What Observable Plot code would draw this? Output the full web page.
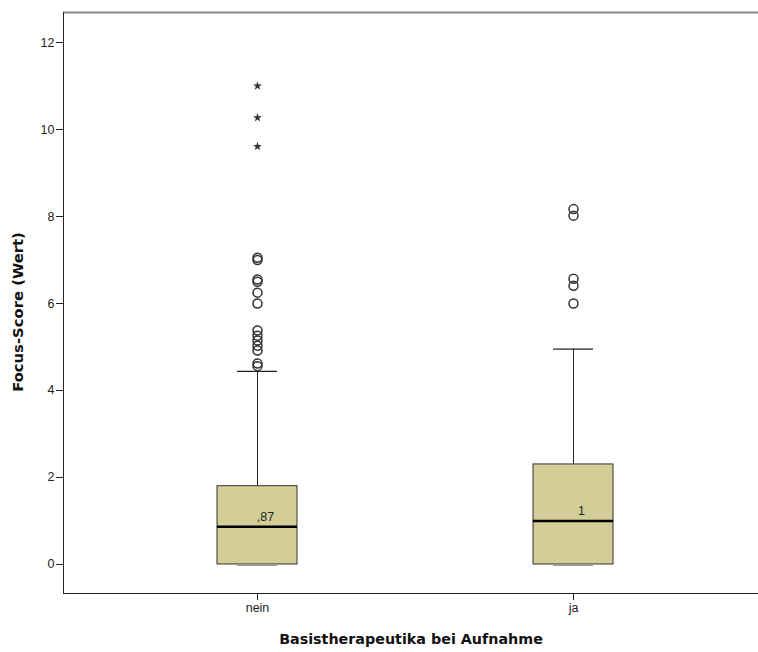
<!DOCTYPE html>
<html><head><meta charset="utf-8">
<script src="https://cdn.jsdelivr.net/npm/d3@7"></script>
<script src="https://cdn.jsdelivr.net/npm/@observablehq/plot@0.6"></script>
<style>body{margin:0;background:#fff}</style>
</head><body><div id="chart"></div>
<script>
const categories = ["nein", "ja"];
const q1 = [0, 0];
const medians = [0.87, 1.0];
const q3 = [1.8, 2.3];
const whiskerLow = [0, 0];
const whiskerHigh = [4.44, 4.95];
const medianLabels = [",87", "1"];
const neinOutliers = [7.0, 7.05, 6.5, 6.55, 6.25, 6.0, 5.38, 5.26, 5.15, 5.03, 4.92, 4.62, 4.56];
const neinExtremes = [11.0, 10.27, 9.61];
const jaOutliers = [8.17, 8.02, 6.57, 6.41, 6.0];
const yTicks = [0, 2, 4, 6, 8, 10, 12];
const yTitle = "Focus-Score (Wert)";
const xTitle = "Basistherapeutika bei Aufnahme";

const boxes = categories.map((c, i) => ({cat: c, q1: q1[i], med: medians[i], q3: q3[i], lo: whiskerLow[i], hi: whiskerHigh[i], label: medianLabels[i]}));
const circles = [
  ...neinOutliers.map(v => ({cat: "nein", v})),
  ...jaOutliers.map(v => ({cat: "ja", v}))
];
const stars = neinExtremes.map(v => ({cat: "nein", v}));
const yMin = -0.667, yMax = 12.69;

const chart = Plot.plot({
  width: 758, height: 652,
  marginLeft: 63, marginRight: 0, marginTop: 12, marginBottom: 59,
  style: {fontFamily: "'Liberation Sans', Arial, sans-serif", fontSize: "12.5px", color: "#222", background: "#fff"},
  x: {type: "band", domain: categories, paddingInner: 0.747, paddingOuter: 0.473, align: 0.515, label: null},
  y: {domain: [yMin, yMax], label: null},
  marks: [
    Plot.ruleY([yMax], {stroke: "#8a8a8a", strokeWidth: 2}),
    Plot.ruleX(boxes, {x: "cat", y1: "q3", y2: "hi", stroke: "#222"}),
    Plot.ruleX(boxes, {x: "cat", y1: "lo", y2: "q1", stroke: "#222"}),
    Plot.tickY(boxes, {x: "cat", y: "hi", insetLeft: 20, insetRight: 20, stroke: "#222", strokeWidth: 1.2}),
    Plot.tickY(boxes, {x: "cat", y: "lo", insetLeft: 20, insetRight: 20, stroke: "#999", dy: 1}),
    Plot.barY(boxes, {x: "cat", y1: "q1", y2: "q3", fill: "#d3ce97", stroke: "#333", strokeWidth: 1}),
    Plot.tickY(boxes, {x: "cat", y: "med", stroke: "#000", strokeWidth: 2.5}),
    Plot.text(boxes, {x: "cat", y: "med", text: "label", dx: 8, dy: -10, fontSize: 12.5, fill: "#222"}),
    Plot.dot(circles, {x: "cat", y: "v", r: 4.5, stroke: "#333", strokeWidth: 1.5, fill: "none"}),
    Plot.dot(stars, {x: "cat", y: "v", symbol: "star", r: 2.8, fill: "#333", stroke: "none"}),
    Plot.axisY({ticks: yTicks, tickSize: 7, tickPadding: 2, label: null, stroke: "#222"}),
    Plot.axisX({tickSize: 7, tickPadding: 3, label: null, stroke: "#222"}),
    Plot.frame({anchor: "left", stroke: "#222"}),
    Plot.frame({anchor: "bottom", stroke: "#222"}),
    Plot.text([yTitle], {text: d => d, frameAnchor: "left", textAnchor: "middle", rotate: -90, dx: -45, dy: 9, fontWeight: "bold", fontSize: 14.8, fontFamily: "'DejaVu Sans', sans-serif", fill: "#111"}),
    Plot.text([xTitle], {text: d => d, frameAnchor: "bottom", textAnchor: "middle", dy: 50, fontWeight: "bold", fontSize: 14.3, fontFamily: "'DejaVu Sans', sans-serif", fill: "#111"})
  ]
});
document.getElementById("chart").append(chart);
</script>
</body></html>
